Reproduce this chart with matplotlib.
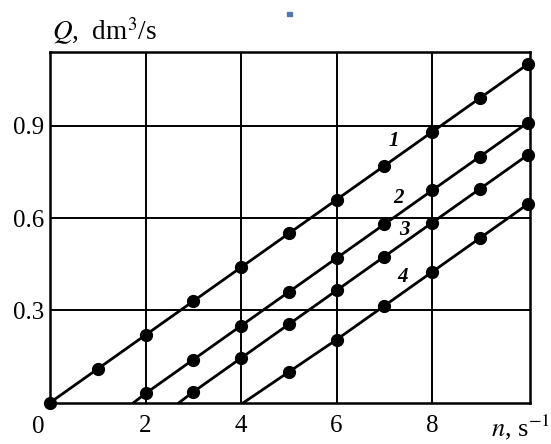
import matplotlib
matplotlib.use("Agg")
import matplotlib.pyplot as plt
import numpy as np

# data
x1 = [0, 1, 2, 3, 4, 5, 6, 7, 8, 9, 10]
y1 = [0.0, 0.11, 0.22, 0.33, 0.44, 0.55, 0.66, 0.77, 0.88, 0.99, 1.10]
x2 = [1.75, 2, 3, 4, 5, 6, 7, 8, 9, 10]
y2 = [0.0, 0.03, 0.14, 0.25, 0.36, 0.47, 0.58, 0.69, 0.80, 0.91]
x3 = [2.7, 3, 4, 5, 6, 7, 8, 9, 10]
y3 = [0.0, 0.035, 0.145, 0.255, 0.365, 0.475, 0.585, 0.695, 0.805]
x4 = [4.05, 5, 6, 7, 8, 9, 10]
y4 = [0.0, 0.10, 0.205, 0.315, 0.425, 0.535, 0.645]
curve_labels = ["1", "2", "3", "4"]
label_pos = [(7.2, 0.85), (7.3, 0.665), (7.42, 0.56), (7.38, 0.41)]
xticks = [2, 4, 6, 8]
yticks = [0.3, 0.6, 0.9]

plt.rcParams['font.family'] = ['Liberation Serif', 'DejaVu Serif']
plt.rcParams['mathtext.fontset'] = 'stix'

fig = plt.figure(figsize=(5.51, 4.44), dpi=100)
ax = fig.add_axes([0.0907, 0.093, 0.8713, 0.790])

for xs, ys in [(x1, y1), (x2, y2), (x3, y3), (x4, y4)]:
    ax.plot(xs, ys, color='black', lw=2.0, zorder=3, clip_on=False)
    if xs[0] == 0:
        mx, my = xs, ys
    else:
        mx, my = xs[1:], ys[1:]
    ax.plot(mx, my, 'o', color='black', ms=8.5, zorder=4, clip_on=False)

for lab, (lx, ly) in zip(curve_labels, label_pos):
    ax.text(lx, ly, lab, fontsize=15, style='italic', weight='bold',
            ha='center', va='center', zorder=5)

ax.set_xlim(0, 10.05)
ax.set_ylim(0, 1.14)
ax.set_xticks(xticks)
ax.set_yticks(yticks)
ax.set_xticklabels([str(v) for v in xticks], fontsize=18)
ax.set_yticklabels([f"{v:.1f}" for v in yticks], fontsize=18)
ax.tick_params(axis='y', length=0, pad=4)
ax.tick_params(axis='x', length=0, pad=9)
ax.grid(True, color='black', lw=1.4)
ax.set_axisbelow(True)
for s in ax.spines.values():
    s.set_linewidth(1.8)

fig.text(38 / 551, 1 - 427 / 444, "0", fontsize=18, ha='center', va='center')
fig.text(52 / 551, 1 - 31 / 444, r"$Q$,  dm$^3$/s", fontsize=19.5, ha='left', va='center')
fig.text(550 / 551, 1 - 427 / 444, r"$n$, s$^{-1}$", fontsize=19, ha='right', va='center')
fig.patches.append(plt.Rectangle((287 / 551, 1 - 16 / 444), 5 / 551, 4 / 444,
                                 transform=fig.transFigure, color='#5577aa', figure=fig))

fig.savefig("out.png", dpi=100)
